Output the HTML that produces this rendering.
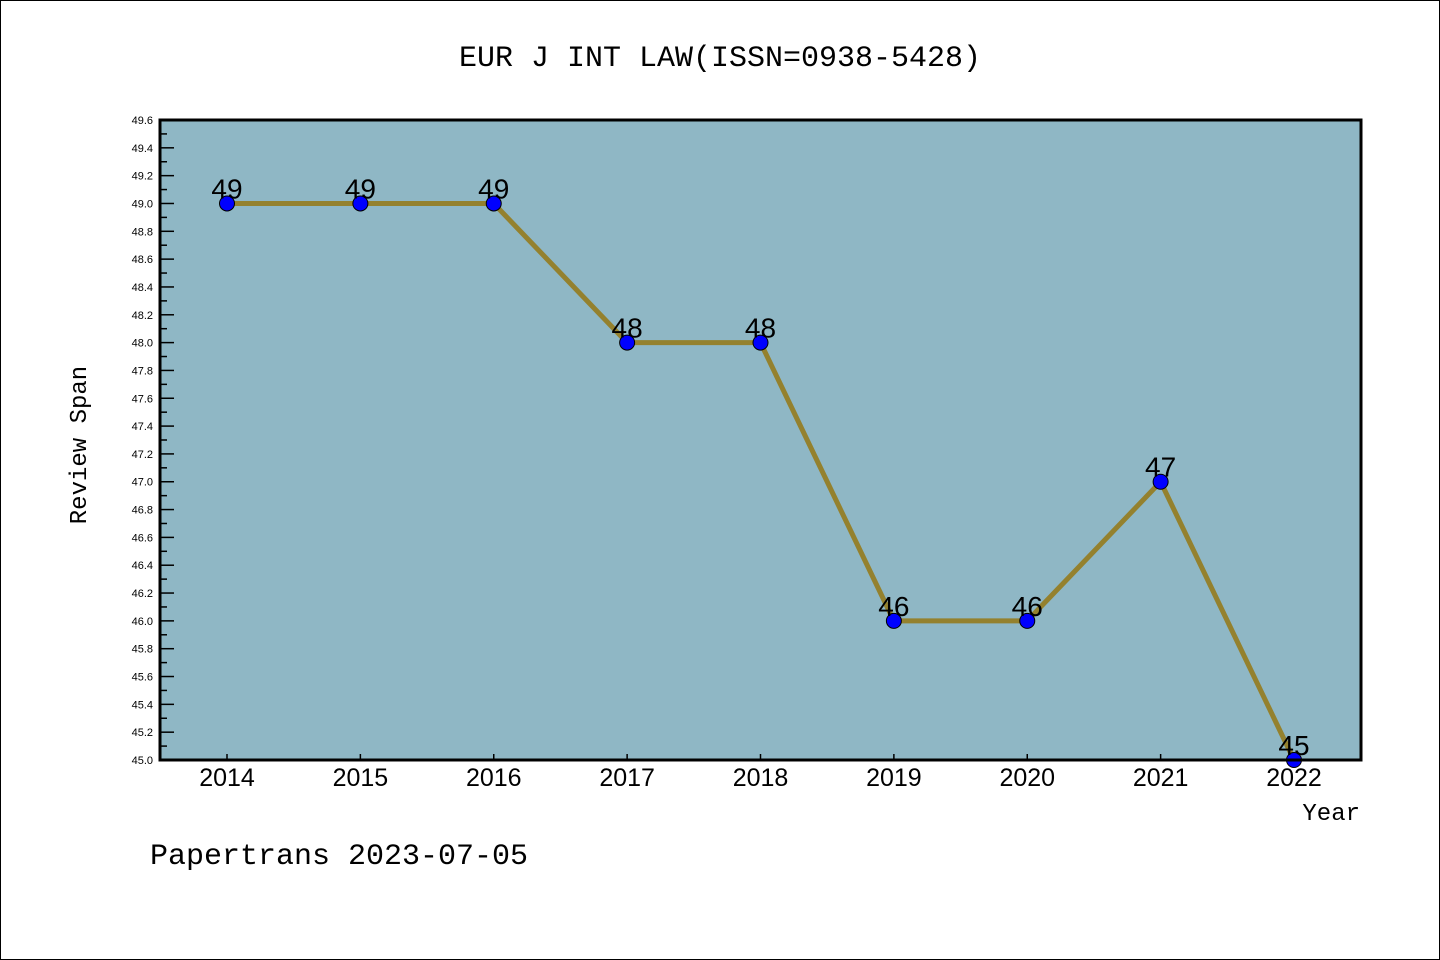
<!DOCTYPE html>
<html><head><meta charset="utf-8"><style>
body{margin:0;background:#fff}
svg{display:block;font-family:"Liberation Sans","WenQuanYi Zen Hei",sans-serif}
</style></head><body>
<svg id="c" width="1440" height="960" xmlns="http://www.w3.org/2000/svg">
<rect x="0.5" y="0.5" width="1439" height="959" fill="#fff" stroke="#000"/>
<text x="720" y="66" font-size="30" text-anchor="middle" font-family="WenQuanYi Zen Hei, Liberation Mono, monospace">EUR J INT LAW(ISSN=0938-5428)</text>
<rect x="160" y="120" width="1201" height="640" fill="#8fb7c5"/>
<g id="yt"></g><g id="xt"></g><g id="series"></g>
<rect x="160" y="120" width="1201" height="640" fill="none" stroke="#000" stroke-width="3"/>
<text x="86" y="445" font-size="24" text-anchor="middle" transform="rotate(-90 86 445)" font-family="WenQuanYi Zen Hei, Liberation Mono, monospace">Review Span</text>
<text x="1360" y="820" font-size="24" text-anchor="end" font-family="WenQuanYi Zen Hei, Liberation Mono, monospace">Year</text>
<text x="150" y="864" font-size="30" font-family="WenQuanYi Zen Hei, Liberation Mono, monospace">Papertrans 2023-07-05</text>
</svg>
<script>
const years=[2014,2015,2016,2017,2018,2019,2020,2021,2022];
const values=[49,49,49,48,48,46,46,47,45];
const yMin=45.0,yMax=49.6;
const NS="http://www.w3.org/2000/svg";
const L=160,R=1361,T=120,B=760;
function xs(i){return 227+i*(1294-227)/(years.length-1);}
function ys(v){return B-(v-yMin)/(yMax-yMin)*(B-T);}
function mk(t,a,p){const e=document.createElementNS(NS,t);for(const k in a)e.setAttribute(k,a[k]);p.appendChild(e);return e;}
const yt=document.getElementById('yt'),xt=document.getElementById('xt'),sg=document.getElementById('series');
for(let k=0;k<=46;k++){
  const v=yMin+k*0.1,y=ys(v),major=k%2===0;
  const t=mk('line',{x1:L,x2:L+(major?14:7),y1:y,y2:y,stroke:'#000','stroke-width':1.5},yt);
  
  
  if(major){const tx=mk('text',{x:153,y:y+4,'font-size':11,'text-anchor':'end'},yt);tx.textContent=v.toFixed(1);
  
  }
}
years.forEach((yr,i)=>{
  const x=xs(i);
  const t=mk('line',{x1:x,x2:x,y1:B,y2:B-6,stroke:'#000','stroke-width':1.5},xt);
  
  
  const tx=mk('text',{x:x,y:786,'font-size':25,'text-anchor':'middle'},xt);tx.textContent=yr;
  
  
});
const pl=mk('polyline',{points:values.map((v,i)=>xs(i)+','+ys(v)).join(' '),fill:'none',stroke:'#94812e','stroke-width':5,'stroke-linejoin':'round'},sg);


values.forEach((v,i)=>{
  const c=mk('circle',{cx:xs(i),cy:ys(v),r:7.5,fill:'#0000ff',stroke:'#000','stroke-width':1},sg);
  
  
  const tx=mk('text',{x:xs(i),y:ys(v)-5,'font-size':28,'text-anchor':'middle'},sg);tx.textContent=v;
  
  
});
</script>
</body></html>
